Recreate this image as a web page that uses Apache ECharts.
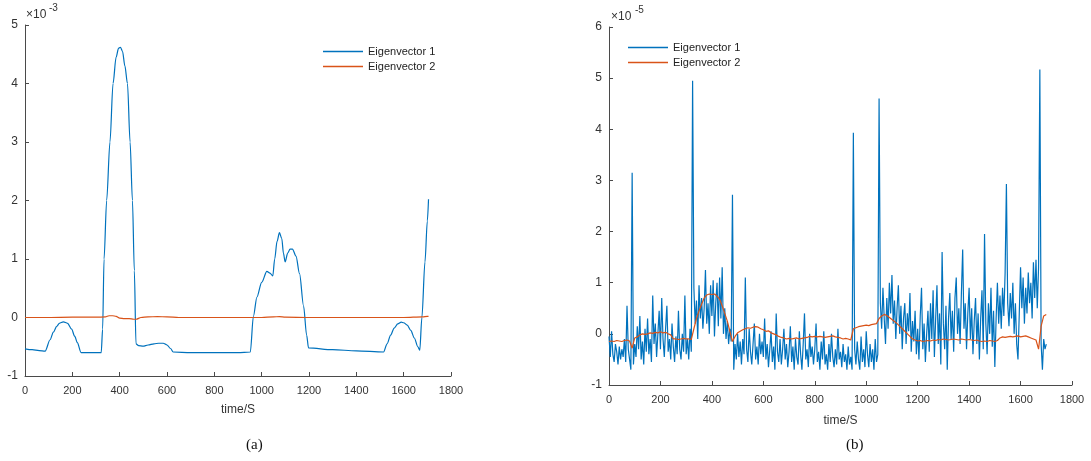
<!DOCTYPE html>
<html>
<head>
<meta charset="utf-8">
<script src="https://cdn.jsdelivr.net/npm/echarts@6/dist/echarts.min.js"></script>
<style>html,body{margin:0;padding:0;background:#fff}#c{width:1091px;height:461px}</style>
</head>
<body>
<div id="c"></div>
<script>
// ---- Panel (a): values in units of 1e-3 ----
var aX1 = [0,30,60,85,106,120,134,145,162,180,197,210,221,237,280,322,328,334,345,359,372,385,395,403,412,422,433,444,454,462,469,480,499,520,545,565,584,600,615,626,700,800,900,952,965,980,1000,1022,1035,1047,1055,1065,1075,1085,1092,1099,1110,1120,1130,1145,1160,1177,1190,1198,1300,1400,1515,1530,1545,1560,1575,1590,1600,1615,1630,1645,1660,1668,1677,1690,1700,1705];
var aY1 = [-0.535,-0.55,-0.565,-0.576,-0.38,-0.25,-0.15,-0.1,-0.074,-0.1,-0.2,-0.32,-0.43,-0.6,-0.6,-0.6,-0.2,1.0,2.0,3.0,4.0,4.45,4.6,4.62,4.55,4.3,4.0,3.0,2.0,0.8,-0.45,-0.48,-0.49,-0.47,-0.45,-0.44,-0.44,-0.47,-0.53,-0.59,-0.6,-0.6,-0.6,-0.59,0.02,0.35,0.6,0.79,0.76,0.71,1.0,1.3,1.45,1.35,1.1,0.95,1.1,1.17,1.17,1.05,0.75,0.2,-0.3,-0.52,-0.55,-0.57,-0.59,-0.45,-0.3,-0.18,-0.11,-0.08,-0.09,-0.13,-0.22,-0.35,-0.5,-0.56,0.0,0.95,1.65,2.02];
var aX2 = [0,100,200,300,340,355,370,385,400,420,440,460,470,490,520,560,600,650,800,1000,1050,1075,1100,1200,1400,1600,1680,1700,1705];
var aY2 = [0,0,0.005,0.005,0.01,0.03,0.03,0.02,-0.01,-0.02,-0.02,-0.03,-0.03,0.0,0.01,0.015,0.01,0.0,0.0,0.0,0.01,0.015,0.005,0.0,0.0,0.0,0.01,0.02,0.02];

// ---- Panel (b): values in units of 1e-5 ----
var bStep1 = 5;   // seconds between samples of Eigenvector 1
var bY1 = [
-0.05,-0.45,0.05,-0.4,-0.55,-0.2,-0.35,-0.6,-0.25,-0.5,-0.3,-0.45,-0.1,-0.55,0.55,-0.3,-0.5,-0.7,3.15,-0.6,
-0.2,-0.45,0.15,-0.3,0.35,-0.5,-0.15,-0.6,0.1,-0.35,0.3,-0.4,-0.1,-0.55,0.75,-0.2,0.2,-0.45,0.0,0.45,
-0.3,0.7,-0.1,-0.45,0.1,0.55,-0.35,-0.1,-0.5,0.2,-0.25,-0.55,-0.05,-0.4,0.45,-0.3,-0.5,0.0,-0.35,0.75,
-0.4,-0.1,-0.5,0.1,-0.35,4.95,0.9,0.2,0.65,-0.1,0.95,0.3,0.7,0.1,0.5,1.25,0.2,0.6,0.0,0.95,
0.35,1.05,-0.05,0.6,1.0,0.15,1.1,0.3,1.3,0.0,0.5,-0.1,0.25,-0.2,0.1,-0.15,2.72,-0.7,-0.2,-0.5,
0.0,-0.45,-0.15,-0.6,-0.1,-0.4,1.1,-0.3,-0.55,0.1,-0.35,-0.6,-0.2,0.2,-0.5,-0.25,-0.6,0.0,-0.4,-0.15,
-0.45,0.3,-0.5,-0.2,-0.65,-0.3,0.05,-0.55,-0.25,-0.7,0.4,-0.35,-0.55,-0.1,-0.6,-0.3,0.1,-0.5,-0.2,-0.65,
-0.35,0.15,-0.55,-0.25,-0.7,-0.1,-0.45,-0.6,0.05,-0.4,-0.7,-0.2,0.4,-0.5,-0.3,-0.65,0.0,-0.45,-0.25,-0.6,
-0.3,0.2,-0.55,-0.35,-0.7,-0.15,-0.5,0.05,-0.6,-0.4,-0.7,-0.2,-0.55,0.0,-0.45,-0.65,-0.3,-0.6,0.1,-0.5,
-0.35,-0.65,-0.2,-0.55,-0.4,-0.7,-0.25,-0.6,-0.45,-0.7,3.93,-0.3,-0.6,-0.15,-0.5,-0.7,-0.05,-0.55,-0.3,-0.65,
0.05,-0.4,-0.65,-0.2,-0.55,-0.3,-0.7,-0.1,-0.55,-0.4,4.6,0.6,0.1,0.9,0.3,-0.2,0.7,0.1,1.0,0.4,
1.15,0.2,0.65,-0.1,0.5,0.95,0.0,0.55,-0.3,0.3,0.6,-0.2,0.4,0.05,0.8,-0.35,0.25,-0.15,0.45,-0.4,
0.1,-0.5,0.35,0.9,-0.3,0.2,-0.55,0.0,0.45,-0.35,0.6,-0.1,0.85,-0.45,0.3,0.95,-0.2,0.4,-0.6,1.6,
0.2,-0.3,0.55,-0.7,0.3,0.8,-0.1,0.45,-0.35,0.7,1.1,0.0,0.5,-0.2,0.8,1.65,0.1,0.6,-0.3,0.4,
0.9,-0.1,0.5,-0.4,0.25,0.7,-0.2,0.4,-0.5,0.3,0.85,-0.3,1.95,0.2,-0.4,0.6,0.0,0.9,-0.25,0.45,
-0.65,0.3,1.0,0.2,0.75,0.1,0.9,0.35,1.2,2.93,0.6,0.15,0.8,0.3,1.0,0.0,0.6,-0.2,-0.5,0.4,
1.3,0.5,1.1,0.2,0.9,0.4,1.2,0.6,1.0,0.3,1.4,0.7,1.45,0.5,1.3,5.17,-0.2,-0.7,-0.1,-0.3,-0.2
];
var bStep2 = 10;  // seconds between samples of Eigenvector 2
var bY2 = [
-0.15,-0.14,-0.15,-0.13,-0.14,-0.15,-0.13,-0.12,-0.14,-0.28,
-0.08,-0.06,-0.02,0.0,-0.01,0.0,0.02,0.01,0.03,0.02,
0.04,0.02,0.03,0.0,-0.02,-0.1,-0.1,-0.11,-0.1,-0.09,
-0.1,-0.1,-0.11,0.1,0.3,0.45,0.58,0.7,0.76,0.78,
0.77,0.78,0.74,0.68,0.55,0.4,0.25,0.05,-0.15,-0.05,
0.02,0.05,0.08,0.1,0.12,0.11,0.13,0.14,0.13,0.1,
0.08,0.05,0.06,0.02,0.0,-0.02,-0.05,-0.07,-0.08,-0.1,
-0.09,-0.1,-0.09,-0.08,-0.1,-0.09,-0.08,-0.07,-0.05,-0.06,
-0.05,-0.06,-0.05,-0.06,-0.07,-0.06,-0.05,-0.04,-0.06,-0.07,
-0.08,-0.1,-0.09,-0.1,-0.12,0.1,0.12,0.14,0.15,0.16,
0.17,0.16,0.18,0.19,0.2,0.3,0.35,0.38,0.36,0.32,
0.28,0.24,0.2,0.15,0.1,0.05,0.0,-0.05,-0.1,-0.12,
-0.14,-0.13,-0.15,-0.14,-0.13,-0.14,-0.12,-0.13,-0.11,-0.12,
-0.1,-0.11,-0.12,-0.11,-0.1,-0.11,-0.12,-0.1,-0.11,-0.12,
-0.11,-0.12,-0.13,-0.12,-0.14,-0.15,-0.14,-0.15,-0.13,-0.14,
-0.15,-0.13,-0.08,-0.06,-0.07,-0.06,-0.05,-0.06,-0.05,-0.04,
-0.06,-0.05,-0.04,-0.06,-0.08,-0.1,-0.12,-0.3,0.15,0.35,
0.38
];

var xTicksMax = 1800, xTickStep = 200;
var seriesNames = ['Eigenvector 1', 'Eigenvector 2'];
var colors = ['#0072BD', '#D95319'];

function pairs(xs, ys) { return xs.map(function (x, i) { return [x, ys[i]]; }); }
function stepped(ys, step) { return ys.map(function (y, i) { return [i * step, y]; }); }

var axisColor = '#4a4a4a', labelColor = '#333';
var font = 'Liberation Sans, Arial, sans-serif';

function xAxis(gi, gap) {
  return {
    type: 'value', gridIndex: gi, min: 0, max: xTicksMax, interval: xTickStep,
    name: 'time/S', nameLocation: 'middle', nameGap: gap,
    nameTextStyle: { color: labelColor, fontSize: 12, fontFamily: font },
    axisLine: { onZero: false, lineStyle: { color: axisColor, width: 1 } },
    axisTick: { inside: true, length: 4, lineStyle: { color: axisColor } },
    axisLabel: { color: labelColor, fontSize: 11, fontFamily: font, margin: 9,
      formatter: function (v) { return String(v); } },
    splitLine: { show: false }
  };
}
function yAxis(gi, min, max) {
  return {
    type: 'value', gridIndex: gi, min: min, max: max, interval: 1,
    axisLine: { show: true, onZero: false, lineStyle: { color: axisColor, width: 1 } },
    axisTick: { show: true, inside: true, length: 4, lineStyle: { color: axisColor } },
    axisLabel: { color: labelColor, fontSize: 12, fontFamily: font, margin: 7 },
    splitLine: { show: false }
  };
}
function line(name, gi, data, color, smooth) {
  return {
    name: name, type: 'line', xAxisIndex: gi, yAxisIndex: gi, data: data,
    showSymbol: false, symbol: 'none', lineStyle: { color: color, width: 1.2 },
    smooth: smooth || false, smoothMonotone: 'x',
    itemStyle: { color: color }, animation: false
  };
}

var chart = echarts.init(document.getElementById('c'), null, { renderer: 'canvas' });
chart.setOption({
  backgroundColor: '#fff',
  animation: false,
  grid: [
    { left: 25, top: 25, width: 426, height: 351 },
    { left: 609, top: 27, width: 463, height: 358 }
  ],
  xAxis: [xAxis(0, 28), xAxis(1, 30)],
  yAxis: [yAxis(0, -1, 5), yAxis(1, -1, 6)],
  legend: [
    { data: seriesNames, left: 318, top: 41, orient: 'vertical', icon: 'rect', itemWidth: 40, itemHeight: 1.5, itemGap: 4,
      textStyle: { fontSize: 11, fontFamily: font, color: '#222' }, selectedMode: false },
    { data: seriesNames, left: 623, top: 37, orient: 'vertical', icon: 'rect', itemWidth: 40, itemHeight: 1.5, itemGap: 4,
      textStyle: { fontSize: 11, fontFamily: font, color: '#222' }, selectedMode: false }
  ],
  series: [
    line(seriesNames[0], 0, pairs(aX1, aY1), colors[0], 0.3),
    line(seriesNames[1], 0, pairs(aX2, aY2), colors[1], 0.3),
    line(seriesNames[0], 1, stepped(bY1, bStep1), colors[0]),
    line(seriesNames[1], 1, stepped(bY2, bStep2), colors[1])
  ],
  graphic: [
    { type: 'text', left: 26, top: 9, style: { text: '×10', fontSize: 12, fontFamily: font, fill: labelColor } },
    { type: 'text', left: 49, top: 3, style: { text: '-3', fontSize: 10, fontFamily: font, fill: labelColor } },
    { type: 'text', left: 611, top: 11, style: { text: '×10', fontSize: 12, fontFamily: font, fill: labelColor } },
    { type: 'text', left: 635, top: 5, style: { text: '-5', fontSize: 10, fontFamily: font, fill: labelColor } },
    { type: 'text', left: 246, top: 438, style: { text: '(a)', fontSize: 15, fontFamily: 'Liberation Serif, Times New Roman, serif', fill: '#111' } },
    { type: 'text', left: 846, top: 438, style: { text: '(b)', fontSize: 15, fontFamily: 'Liberation Serif, Times New Roman, serif', fill: '#111' } }
  ]
});
</script>
</body>
</html>
